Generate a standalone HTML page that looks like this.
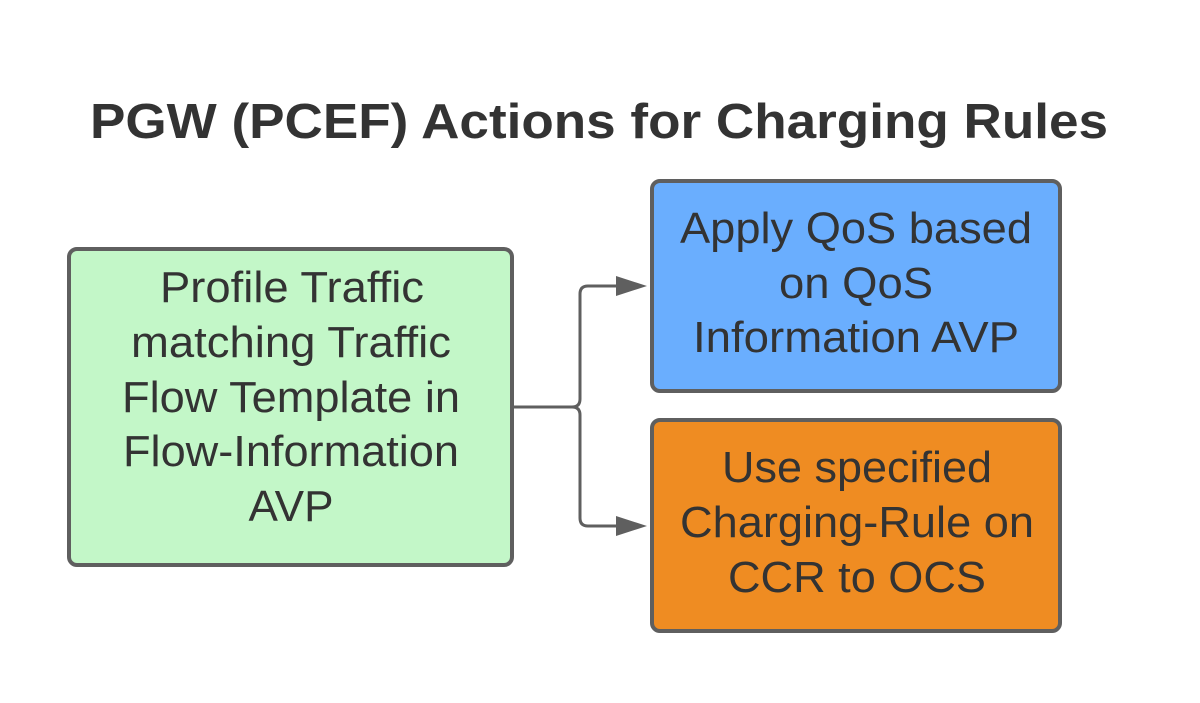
<!DOCTYPE html>
<html><head><meta charset="utf-8"><style>html,body{margin:0;padding:0;background:#fff}svg{display:block}</style></head>
<body>
<svg width="1200" height="703" viewBox="0 0 1200 703" xmlns="http://www.w3.org/2000/svg" font-family="'Liberation Sans', Arial, sans-serif">
<rect width="1200" height="703" fill="#fff"/>
<text x="599" y="138" text-anchor="middle" font-size="49" font-weight="bold" fill="#333" textLength="1018" lengthAdjust="spacingAndGlyphs">PGW (PCEF) Actions for Charging Rules</text>
<rect x="69" y="249" width="443" height="316" rx="8" fill="#c3f7c8" stroke="#5f5f5f" stroke-width="4"/>
<rect x="652" y="181" width="408" height="210" rx="8" fill="#6aaefe" stroke="#5f5f5f" stroke-width="4"/>
<rect x="652" y="420" width="408" height="211" rx="8" fill="#ef8c22" stroke="#5f5f5f" stroke-width="4"/>
<g fill="none" stroke="#5f5f5f" stroke-width="3">
<path d="M514 407 H572 Q580 407 580 399 V294 Q580 286 588 286 H620"/>
<path d="M572 407 Q580 407 580 415 V518 Q580 526 588 526 H620"/>
</g>
<polygon points="616,276 647,286 616,296" fill="#5f5f5f"/>
<polygon points="616,516 647,526 616,536" fill="#5f5f5f"/>
<g font-size="44" fill="#333" text-anchor="middle" lengthAdjust="spacingAndGlyphs">
<text x="292" y="302" textLength="264" lengthAdjust="spacingAndGlyphs">Profile Traffic</text>
<text x="291" y="357" textLength="320" lengthAdjust="spacingAndGlyphs">matching Traffic</text>
<text x="291" y="412" textLength="338" lengthAdjust="spacingAndGlyphs">Flow Template in</text>
<text x="291" y="466" textLength="336" lengthAdjust="spacingAndGlyphs">Flow-Information</text>
<text x="291" y="521" textLength="85" lengthAdjust="spacingAndGlyphs">AVP</text>
<text x="856" y="243" textLength="352" lengthAdjust="spacingAndGlyphs">Apply QoS based</text>
<text x="856" y="298" textLength="154" lengthAdjust="spacingAndGlyphs">on QoS</text>
<text x="856" y="352" textLength="326" lengthAdjust="spacingAndGlyphs">Information AVP</text>
<text x="857" y="482" textLength="270" lengthAdjust="spacingAndGlyphs">Use specified</text>
<text x="857" y="537" textLength="354" lengthAdjust="spacingAndGlyphs">Charging-Rule on</text>
<text x="857" y="592" textLength="258" lengthAdjust="spacingAndGlyphs">CCR to OCS</text>
</g>
</svg>
</body></html>
